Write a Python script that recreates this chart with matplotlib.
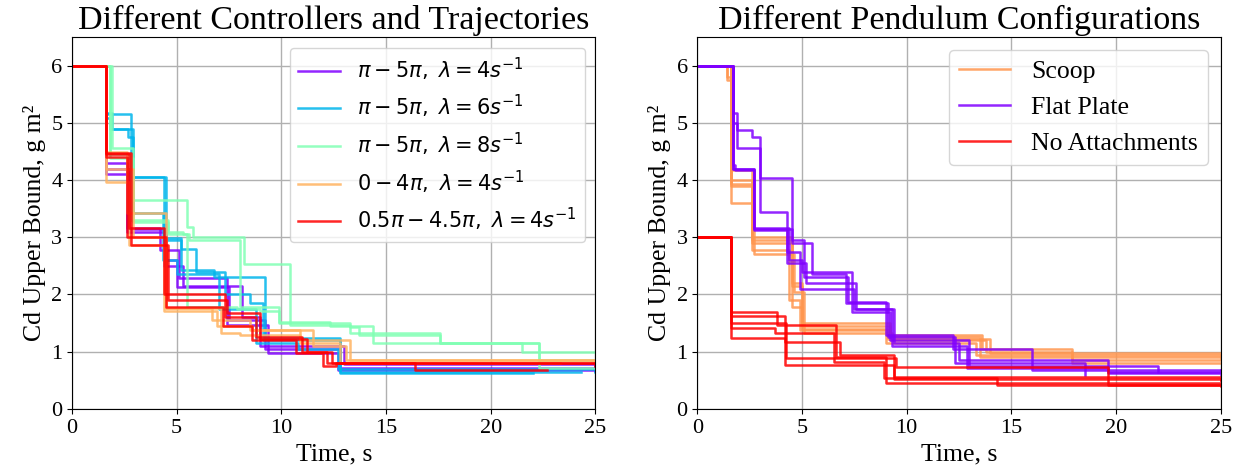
import matplotlib
matplotlib.use("Agg")
import matplotlib.pyplot as plt
from matplotlib import cm

plt.rcParams["font.family"] = ["Liberation Serif", "DejaVu Serif"]
plt.rcParams["mathtext.fontset"] = "dejavusans"

# ---- left panel: controllers / trajectories (steps-post breakpoints) ----
left_labels = [
    r"$\pi - 5\pi,\ \lambda = 4s^{-1}$",
    r"$\pi - 5\pi,\ \lambda = 6s^{-1}$",
    r"$\pi - 5\pi,\ \lambda = 8s^{-1}$",
    r"$0 - 4\pi,\ \lambda = 4s^{-1}$",
    r"$0.5\pi - 4.5\pi,\ \lambda = 4s^{-1}$",
]
left_cmap_pos = [0.0, 0.25, 0.5, 0.75, 1.0]

purple_runs = [
    ([0, 1.6, 2.6, 4.2, 5.1, 7.4, 9.35, 12.7, 25], [6, 4.3, 3.17, 2.77, 2.28, 1.47, 0.97, 0.68, 0.68]),
    ([0, 1.6, 2.6, 4.5, 5.0, 7.5, 9.2, 12.8, 25], [6, 4.1, 3.1, 2.6, 2.13, 1.55, 1.05, 0.72, 0.66]),
    ([0, 1.6, 2.7, 4.4, 5.3, 8.1, 9.0, 13.0, 25], [6, 4.2, 3.15, 2.5, 2.15, 1.6, 1.1, 0.78, 0.7]),
]
blue_runs = [
    ([0, 1.6, 1.9, 2.67, 2.9, 4.5, 5.2, 5.9, 7.3, 8.5, 9.1, 12.8, 24.3],
     [6, 5.18, 4.9, 4.75, 4.05, 2.98, 2.8, 2.4, 2.0, 1.85, 1.2, 0.65, 0.65]),
    ([0, 1.6, 1.8, 2.9, 4.35, 5.0, 7.0, 8.8, 10.8, 12.7, 25],
     [6, 5.08, 4.9, 3.43, 2.6, 2.35, 1.75, 1.15, 1.05, 0.7, 0.65]),
    ([0, 1.6, 2.8, 4.4, 5.2, 6.8, 9.2, 12.8, 22.0],
     [6, 5.15, 4.05, 2.95, 2.43, 2.3, 1.24, 0.63, 0.63]),
]
green_runs = [
    ([0, 1.9, 2.9, 5.5, 5.8, 8.2, 10.4, 13.3, 13.7, 17.6, 21.5, 25],
     [6, 4.57, 3.65, 3.18, 3.0, 2.53, 1.47, 1.43, 1.3, 1.15, 1.0, 1.0]),
    ([0, 1.8, 2.9, 4.6, 5.3, 5.5, 7.9, 9.0, 9.9, 13.3, 17.6, 22.3, 25],
     [6, 4.38, 3.27, 3.09, 3.05, 1.78, 1.75, 1.72, 1.5, 1.33, 1.15, 0.85, 0.85]),
    ([0, 1.8, 2.8, 4.6, 5.6, 8.0, 9.9, 12.3, 14.4, 17.0, 22.3, 25],
     [6, 4.45, 3.3, 3.05, 2.95, 1.78, 1.52, 1.45, 1.15, 1.15, 0.72, 0.72]),
]
orange_runs = [
    ([0, 1.6, 2.6, 4.35, 4.5, 6.7, 8.5, 10.9, 13.3, 25],
     [6, 4.5, 3.42, 3.42, 1.76, 1.55, 1.38, 1.2, 0.85, 0.82]),
    ([0, 1.6, 2.9, 4.5, 7.1, 8.0, 10.9, 12.8, 23.3],
     [6, 4.2, 3.0, 1.76, 1.33, 1.3, 1.15, 0.8, 0.8]),
    ([0, 1.6, 2.7, 4.4, 6.9, 8.6, 11.5, 13.1, 25],
     [6, 3.97, 2.86, 1.72, 1.45, 1.38, 1.1, 0.85, 0.85]),
]
red_runs = [
    ([0, 1.6, 2.7, 4.4, 7.3, 8.8, 11.0, 12.2, 16.4, 22.7],
     [6, 4.45, 3.16, 2.0, 1.6, 1.25, 1.0, 0.8, 0.68, 0.68]),
    ([0, 1.6, 2.6, 4.5, 7.2, 8.6, 10.7, 12.0, 12.6, 25],
     [6, 4.4, 3.0, 1.78, 1.45, 1.2, 0.98, 0.75, 0.8, 0.8]),
    ([0, 1.6, 2.8, 4.6, 7.4, 9.0, 11.2, 12.4, 25],
     [6, 4.47, 2.86, 1.9, 1.67, 1.22, 1.0, 0.8, 0.75]),
]
left_groups = [purple_runs, blue_runs, green_runs, orange_runs, red_runs]

# ---- right panel: pendulum configurations ----
right_labels = ["Scoop", "Flat Plate", "No Attachments"]
right_cmap_pos = [0.8, 0.0, 1.0]

scoop_runs = [
    ([0, 1.4, 1.6, 2.6, 4.5, 5.0, 9.2, 13.8, 17.9, 25], [6, 5.8, 4.17, 2.95, 2.2, 1.45, 1.2, 1.0, 0.85, 0.85]),
    ([0, 1.6, 2.6, 4.4, 4.9, 9.0, 13.3, 25], [6, 4.0, 2.77, 1.9, 1.38, 1.15, 0.95, 0.9]),
    ([0, 1.6, 2.7, 4.6, 5.1, 9.3, 13.5, 25], [6, 3.6, 2.7, 2.05, 1.33, 1.26, 0.9, 0.88]),
    ([0, 1.4, 1.6, 2.6, 4.5, 5.0, 9.1, 14.0, 25], [6, 5.75, 3.94, 3.0, 1.78, 1.4, 1.22, 0.98, 0.93]),
    ([0, 1.6, 2.6, 4.5, 5.0, 9.2, 13.6, 17.9, 25], [6, 3.9, 2.9, 2.15, 1.5, 1.3, 1.05, 0.8, 0.8]),
]
flat_runs = [
    ([0, 1.7, 1.9, 2.6, 3.0, 4.5, 5.1, 7.2, 9.0, 12.2, 16.0, 25], [6, 5.18, 4.87, 4.75, 4.03, 2.95, 2.3, 1.87, 1.3, 1.05, 0.68, 0.68]),
    ([0, 1.7, 1.9, 3.0, 4.3, 4.9, 7.5, 9.3, 12.9, 19.6, 25], [6, 5.0, 4.57, 3.44, 2.75, 2.1, 1.75, 1.1, 0.72, 0.62, 0.6]),
    ([0, 1.7, 1.8, 2.7, 4.4, 5.0, 7.4, 9.2, 13.0, 22.0], [6, 4.26, 4.17, 3.17, 2.6, 2.4, 1.7, 1.2, 0.75, 0.65]),
    ([0, 1.7, 2.7, 4.3, 5.2, 7.6, 9.4, 12.5, 19.6, 25], [6, 4.2, 3.12, 2.55, 2.2, 1.75, 1.15, 0.85, 0.65, 0.68]),
    ([0, 1.7, 2.7, 4.5, 5.5, 7.1, 9.1, 12.3, 18.5], [6, 4.2, 3.15, 2.9, 2.35, 1.85, 1.26, 0.8, 0.6]),
]
none_runs = [
    ([0, 1.6, 3.8, 6.6, 9.0, 25], [3, 1.69, 1.46, 0.9, 0.45, 0.45]),
    ([0, 1.6, 4.2, 6.8, 9.4, 25], [3, 1.63, 1.17, 0.94, 0.52, 0.5]),
    ([0, 1.6, 4.25, 9.5, 19.6, 25], [3, 1.51, 0.89, 0.73, 0.42, 0.42]),
    ([0, 1.6, 3.7, 6.55, 8.9, 14.3, 25], [3, 1.42, 1.33, 0.82, 0.54, 0.42, 0.4]),
    ([0, 1.6, 4.2, 9.4, 25], [3, 1.24, 0.77, 0.55, 0.5]),
]
right_groups = [scoop_runs, flat_runs, none_runs]

fig, axes = plt.subplots(1, 2, figsize=(12.43, 4.76), dpi=100)
plt.subplots_adjust(left=0.058, right=0.982, bottom=0.141, top=0.922, wspace=0.195)


def draw(ax, groups, labels, positions, title):
    for runs, label, pos in zip(groups, labels, positions):
        color = cm.rainbow(pos)
        for i, (t, v) in enumerate(runs):
            ax.plot(t, v, drawstyle="steps-post", color=color, lw=1.8, alpha=0.85,
                    label=label if i == 0 else None)
    ax.set_xlim(0, 25)
    ax.set_ylim(0, 6.5)
    ax.set_xticks([0, 5, 10, 15, 20, 25])
    ax.set_yticks(range(7))
    ax.grid(True, color="#b0b0b0", lw=1)
    ax.set_axisbelow(True)
    ax.tick_params(labelsize=16)
    ax.set_title(title, fontsize=24.5)
    ax.set_xlabel("Time, s", fontsize=18.5)
    ax.set_ylabel("Cd Upper Bound, g m²", fontsize=18.5)


draw(axes[0], left_groups, left_labels, left_cmap_pos, "Different Controllers and Trajectories")
draw(axes[1], right_groups, right_labels, right_cmap_pos, "Different Pendulum Configurations")

axes[0].legend(loc="upper right", fontsize=15)
axes[1].legend(loc="upper right", fontsize=18.5)

plt.savefig("out.png")
plt.close()
